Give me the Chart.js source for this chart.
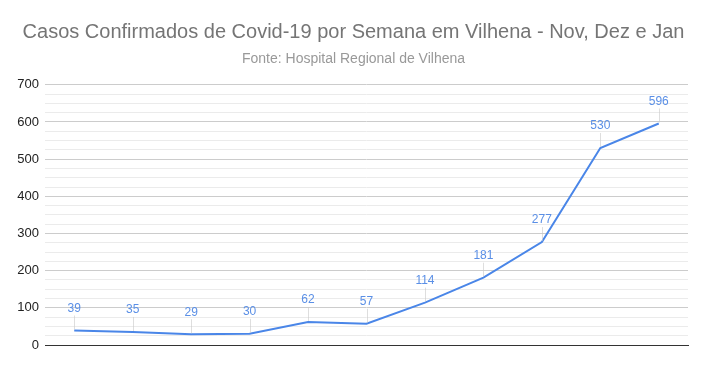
<!DOCTYPE html>
<html>
<head>
<meta charset="utf-8">
<script src="https://cdn.jsdelivr.net/npm/chart.js@4.4.1/dist/chart.umd.min.js"></script>
<style>
html,body{margin:0;padding:0;background:#fff;}
#wrap{width:707px;height:371px;}
</style>
</head>
<body>
<div id="wrap"><canvas id="c" width="707" height="371"></canvas></div>
<script>
const titleText = "Casos Confirmados de Covid-19 por Semana em Vilhena - Nov, Dez e Jan";
const subtitleText = "Fonte: Hospital Regional de Vilhena";
const categories = ["S1","S2","S3","S4","S5","S6","S7","S8","S9","S10","S11"];
const casos = [39, 35, 29, 30, 62, 57, 114, 181, 277, 530, 596];
const yMin = 0, yMax = 700, yMinorStep = 25, yMajorStep = 100;

const FONT = "'Liberation Sans', Arial, sans-serif";
const BLUE = "#4a86e8";

const labelPlugin = {
  id: 'valueLabels',
  afterDatasetsDraw(chart) {
    const ctx = chart.ctx;
    const meta = chart.getDatasetMeta(0);
    ctx.save();
    ctx.font = "12px " + FONT;
    ctx.textAlign = 'center';
    ctx.textBaseline = 'middle';
    meta.data.forEach((pt, i) => {
      const x = pt.x, y = pt.y;
      const ly = y - 22;
      ctx.strokeStyle = 'rgba(200,200,200,0.6)';
      ctx.lineWidth = 1;
      ctx.beginPath();
      ctx.moveTo(Math.round(x) + 0.5, ly + 7);
      ctx.lineTo(Math.round(x) + 0.5, y - 1);
      ctx.stroke();
      ctx.fillStyle = '#5a8fe6';
      ctx.fillText(String(casos[i]), x, ly);
    });
    ctx.restore();
  }
};

new Chart(document.getElementById('c'), {
  type: 'line',
  data: {
    labels: categories,
    datasets: [{
      data: casos,
      borderColor: BLUE,
      borderWidth: 2,
      pointRadius: 0,
      tension: 0,
      fill: false
    }]
  },
  options: {
    responsive: false,
    animation: false,
    devicePixelRatio: 1,
    layout: { padding: { left: 0, right: 0, top: 0, bottom: 18 } },
    plugins: {
      legend: { display: false },
      tooltip: { enabled: false },
      title: {
        display: true,
        text: titleText,
        color: '#757575',
        font: { family: FONT, size: 20, weight: 'normal' },
        padding: { top: 20, bottom: 4 }
      },
      subtitle: {
        display: true,
        text: subtitleText,
        color: '#999999',
        font: { family: FONT, size: 14, weight: 'normal' },
        padding: { top: 3, bottom: 17 }
      }
    },
    scales: {
      x: {
        offset: true,
        grid: { display: false },
        ticks: { display: false },
        border: { display: true, color: '#333333', width: 1 }
      },
      y: {
        min: yMin,
        max: yMax,
        ticks: {
          stepSize: yMinorStep,
          autoSkip: false,
          color: '#222222',
          font: { family: FONT, size: 13 },
          padding: 6,
          callback: (v) => (v % yMajorStep === 0 ? String(v) : '')
        },
        grid: {
          drawTicks: false,
          color: (c) => (c.tick.value === 0 ? 'rgba(0,0,0,0)' : (c.tick.value % yMajorStep === 0 ? '#cccccc' : '#ebebeb'))
        },
        border: { display: false },
        afterFit: (s) => { s.width = 45; }
      },
      yRight: {
        position: 'right',
        display: true,
        min: yMin,
        max: yMax,
        grid: { display: false, drawTicks: false },
        ticks: { display: false },
        border: { display: false },
        afterFit: (s) => { s.width = 19; }
      }
    }
  },
  plugins: [labelPlugin]
});
</script>
</body>
</html>
